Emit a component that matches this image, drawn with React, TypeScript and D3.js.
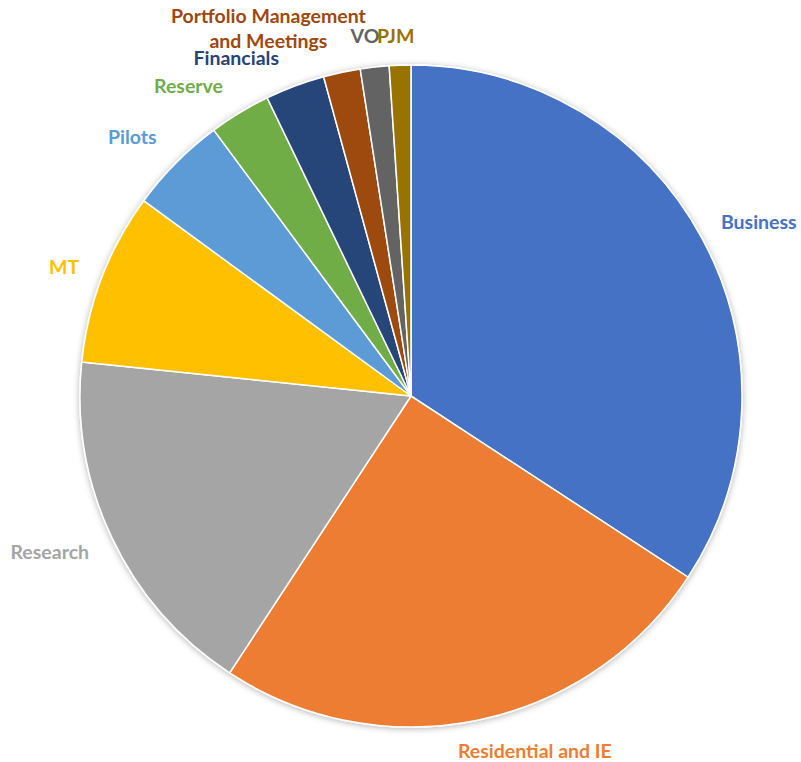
import React, { useRef, useEffect } from 'react';
import * as d3 from 'd3';

const categories = [
  'Business',
  'Residential and IE',
  'Research',
  'MT',
  'Pilots',
  'Reserve',
  'Financials',
  'Portfolio Management and Meetings',
  'VO',
  'PJM',
];
const values = [34.2, 25.0, 17.4, 8.4, 4.8, 3.0, 2.9, 1.8, 1.4, 1.05];
const colors = ['#4472C4', '#ED7D31', '#A5A5A5', '#FFC000', '#5B9BD5', '#70AD47', '#264478', '#9E480E', '#636363', '#997300'];
const labelLines = [
  ['Business'],
  ['Residential and IE'],
  ['Research'],
  ['MT'],
  ['Pilots'],
  ['Reserve'],
  ['Financials'],
  ['Portfolio Management', 'and Meetings'],
  ['VO'],
  ['PJM'],
];
// small manual moves, like excel does when labels collide
const labelNudge = [[4, -1], [36, -2], [-7, -1], [-3, 1], [-11, -3], [-22, 1], [-36, 3], [-48, 1], [-6, 2], [-3, 4]];

const App = () => {
  const svgRef = useRef<SVGSVGElement>(null);
  const w = 801;
  const h = 762;
  const cx = 411;
  const cy = 396;
  const r = 331;

  useEffect(() => {
    const svg = d3.select(svgRef.current);
    svg.selectAll('*').remove();

    const filter = svg.append('defs').append('filter')
      .attr('id', 'shadow')
      .attr('x', '-10%').attr('y', '-10%')
      .attr('width', '120%').attr('height', '120%');
    filter.append('feDropShadow')
      .attr('dx', 0).attr('dy', 1)
      .attr('stdDeviation', 3)
      .attr('flood-color', '#000')
      .attr('flood-opacity', 0.3);

    const pie = d3.pie<number>().sort(null).value(d => d);
    const arcs = pie(values);
    const arc = d3.arc<d3.PieArcDatum<number>>().innerRadius(0).outerRadius(r);

    const g = svg.append('g').attr('transform', `translate(${cx},${cy})`);

    g.append('g')
      .attr('filter', 'url(#shadow)')
      .selectAll('path')
      .data(arcs)
      .enter()
      .append('path')
      .attr('d', arc)
      .attr('fill', (d, i) => colors[i])
      .attr('stroke', '#fff')
      .attr('stroke-width', 1.5)
      .append('title')
      .text((d, i) => categories[i]);

    // labels outside the slice end
    const gap = 22;
    const lineH = 25;
    arcs.forEach((d, i) => {
      const a = (d.startAngle + d.endAngle) / 2;
      const s = Math.sin(a);
      const c = Math.cos(a);
      const rr = r + gap;
      const t = g.append('text')
        .attr('font-family', 'Lato, sans-serif')
        .attr('font-weight', 'bold')
        .attr('font-size', 19.5)
        .attr('fill', colors[i])
        .attr('text-anchor', 'middle');
      labelLines[i].forEach((ln, j) => {
        t.append('tspan').attr('x', 0).attr('dy', j === 0 ? 0 : lineH).text(ln);
      });
      const bb = (t.node() as SVGTextElement).getBBox();
      const mx = rr * s + s * bb.width / 2 + labelNudge[i][0];
      const my = -rr * c - c * bb.height / 2 + labelNudge[i][1];
      t.attr('transform', `translate(${mx - (bb.x + bb.width / 2)},${my - (bb.y + bb.height / 2)})`);
    });
  }, []);

  return (
    <svg
      ref={svgRef}
      width={w}
      height={h}
      style={{ position: 'absolute', left: 0, top: 0, background: '#fff' }}
    ></svg>
  );
};

export default App;
